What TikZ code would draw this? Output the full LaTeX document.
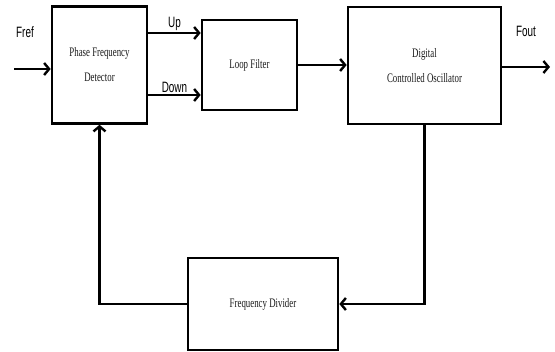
\documentclass[tikz,border=0pt]{standalone}
\usepackage{fontspec}
\setmainfont{Liberation Serif}
\newfontfamily\boxfont[FakeStretch=0.68]{Liberation Serif}
\newfontfamily\lblfont[FakeStretch=0.66]{Liberation Sans}
\usetikzlibrary{arrows.meta,positioning}

\begin{document}
\begin{tikzpicture}[x=1pt,y=-1pt,>={Straight Barb[length=5pt,width=12pt]},
  blk/.style={draw,line width=2.6pt,align=center,inner sep=0pt,text=black!90,font=\boxfont\fontsize{13}{25}\selectfont},
  lbl/.style={font=\lblfont\fontsize{15}{17}\selectfont},
  sig/.style={->,line width=2.4pt}]
\useasboundingbox (0,0) rectangle (555,352);
\node[blk,minimum width=95pt,minimum height=117pt] (pfd) at (99.5,65) {Phase Frequency\\Detector};
\node[blk,minimum width=95pt,minimum height=90pt] (lf) at (249.5,65) {Loop Filter};
\node[blk,minimum width=153pt,minimum height=117pt] (dco) at (424.5,65.5) {Digital\\Controlled Oscillator};
\node[blk,minimum width=150pt,minimum height=92pt] (fd) at (263,304) {Frequency Divider};
\coordinate (fin) at (14,69);
\coordinate (fout) at (550,67);
\node[lbl] (fref) at (25,32) {Fref};
\node[lbl] (foutl) at (526,31) {Fout};
% forward path
\draw[sig] (fin) -- (fin -| pfd.west);
\draw[sig] ([yshift=32pt]pfd.east) -- node[lbl,above,inner sep=1pt] {Up} ([yshift=32pt]pfd.east -| lf.west);
\draw[sig] ([yshift=-30pt]pfd.east) -- node[lbl,above,inner sep=1pt] {Down} ([yshift=-30pt]pfd.east -| lf.west);
\draw[sig] (lf.east) -- (lf.east -| dco.west);
\draw[sig] (dco.east |- fout) -- (fout);
% feedback path
\draw[sig] (dco.south) |- (fd.east);
\draw[sig] (fd.west) -| (pfd.south);
\end{tikzpicture}
\end{document}
